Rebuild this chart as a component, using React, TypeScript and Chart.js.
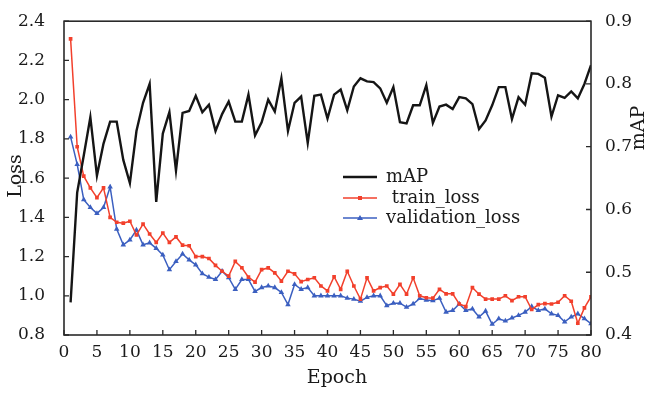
import React, { useEffect, useRef } from "react";
import { Chart, registerables } from "chart.js";
Chart.register(...registerables);

const epochs = [
  1, 2, 3, 4, 5, 6, 7, 8, 9, 10, 11, 12, 13, 14, 15, 16, 17, 18, 19, 20,
  21, 22, 23, 24, 25, 26, 27, 28, 29, 30, 31, 32, 33, 34, 35, 36, 37, 38, 39, 40,
  41, 42, 43, 44, 45, 46, 47, 48, 49, 50, 51, 52, 53, 54, 55, 56, 57, 58, 59, 60,
  61, 62, 63, 64, 65, 66, 67, 68, 69, 70, 71, 72, 73, 74, 75, 76, 77, 78, 79, 80,
];

const mAP = [
  0.452, 0.627, 0.686, 0.747, 0.654, 0.705, 0.74, 0.74, 0.679, 0.642,
  0.725, 0.77, 0.8, 0.612, 0.721, 0.755, 0.662, 0.754, 0.757, 0.781,
  0.755, 0.767, 0.725, 0.752, 0.772, 0.74, 0.74, 0.783, 0.718, 0.739,
  0.775, 0.756, 0.809, 0.725, 0.77, 0.78, 0.706, 0.781, 0.783, 0.745,
  0.783, 0.791, 0.758, 0.796, 0.809, 0.804, 0.803, 0.793, 0.77, 0.795,
  0.739, 0.737, 0.766, 0.766, 0.798, 0.738, 0.764, 0.767, 0.76, 0.779,
  0.777, 0.768, 0.728, 0.742, 0.766, 0.795, 0.795, 0.744, 0.779, 0.767,
  0.817, 0.816, 0.81, 0.748, 0.782, 0.778, 0.788, 0.777, 0.8, 0.83,
];

const trainLoss = [
  2.31, 1.76, 1.61, 1.55, 1.5, 1.55, 1.4, 1.375, 1.37, 1.38,
  1.31, 1.365, 1.315, 1.272, 1.32, 1.272, 1.3, 1.258, 1.255, 1.2,
  1.2, 1.19, 1.155, 1.125, 1.1, 1.175, 1.143, 1.095, 1.07, 1.133,
  1.142, 1.117, 1.075, 1.125, 1.112, 1.072, 1.083, 1.092, 1.05, 1.025,
  1.097, 1.033, 1.125, 1.05, 0.983, 1.092, 1.025, 1.042, 1.05, 1.008,
  1.058, 1.008, 1.092, 1.0, 0.99, 0.988, 1.033, 1.01, 1.01, 0.958,
  0.945, 1.042, 1.008, 0.983, 0.983, 0.983, 1.0, 0.975, 0.995, 0.995,
  0.93, 0.955, 0.96, 0.958, 0.967, 1.0, 0.972, 0.86, 0.938, 0.995,
];

const validationLoss = [
  1.81, 1.67, 1.49, 1.45, 1.42, 1.45, 1.555, 1.34, 1.26, 1.285,
  1.335, 1.26, 1.27, 1.242, 1.208, 1.133, 1.175, 1.213, 1.183, 1.158,
  1.113, 1.095, 1.083, 1.125, 1.092, 1.033, 1.083, 1.083, 1.022, 1.042,
  1.05, 1.042, 1.017, 0.955, 1.058, 1.033, 1.042, 1.0, 1.0, 1.0,
  1.0, 1.0, 0.988, 0.983, 0.972, 0.992, 1.0, 1.0, 0.95, 0.962,
  0.962, 0.942, 0.958, 0.986, 0.978, 0.975, 0.988, 0.917, 0.925, 0.958,
  0.925, 0.933, 0.892, 0.922, 0.855, 0.883, 0.872, 0.887, 0.9, 0.917,
  0.945, 0.925, 0.933, 0.908, 0.9, 0.867, 0.892, 0.908, 0.883, 0.858,
];

const seriesLabels = ["mAP", " train_loss", "validation_loss"];
const xTitle = "Epoch";
const leftTitle = "Loss";
const rightTitle = "mAP";

const FONT = "'DejaVu Serif', serif";
const BLACK = "#151515";
const RED = "#f2402c";
const BLUE = "#3b5fc0";

const decorPlugin = {
  id: "decor",
  afterDraw(chart: any) {
    const { ctx, chartArea: a, scales } = chart;
    ctx.save();
    // frame
    ctx.strokeStyle = "#2a2a2a";
    ctx.lineWidth = 1.6;
    ctx.strokeRect(a.left, a.top, a.right - a.left, a.bottom - a.top);
    // inner ticks
    ctx.lineWidth = 1.3;
    ctx.beginPath();
    scales.x.ticks.forEach((t: any) => {
      const px = scales.x.getPixelForValue(t.value);
      ctx.moveTo(px, a.bottom);
      ctx.lineTo(px, a.bottom - 5);
    });
    scales.y.ticks.forEach((t: any) => {
      const py = scales.y.getPixelForValue(t.value);
      ctx.moveTo(a.left, py);
      ctx.lineTo(a.left + 5, py);
    });
    scales.y1.ticks.forEach((t: any) => {
      const py = scales.y1.getPixelForValue(t.value);
      ctx.moveTo(a.right, py);
      ctx.lineTo(a.right - 5, py);
    });
    ctx.stroke();

    // axis titles
    ctx.fillStyle = "#1a1a1a";
    ctx.font = `19px ${FONT}`;
    ctx.textAlign = "center";
    ctx.textBaseline = "middle";
    ctx.fillText(xTitle, 337, 378);
    ctx.save();
    ctx.translate(16, 176);
    ctx.rotate(-Math.PI / 2);
    ctx.fillText(leftTitle, 0, 0);
    ctx.restore();
    ctx.save();
    ctx.translate(639, 128);
    ctx.rotate(-Math.PI / 2);
    ctx.fillText(rightTitle, 0, 0);
    ctx.restore();

    // legend
    const rows = [177, 198, 218];
    chart.data.datasets.forEach((ds: any, i: number) => {
      const y = rows[i];
      ctx.strokeStyle = ds.borderColor;
      ctx.lineWidth = ds.borderWidth;
      ctx.beginPath();
      ctx.moveTo(343, y);
      ctx.lineTo(377, y);
      ctx.stroke();
      if (ds.pointRadius > 0) {
        ctx.fillStyle = ds.pointBackgroundColor;
        ctx.beginPath();
        if (ds.pointStyle === "rect") {
          ctx.rect(360 - 2, y - 2, 4, 4);
        } else {
          ctx.moveTo(360, y - 3);
          ctx.lineTo(363, y + 2);
          ctx.lineTo(357, y + 2);
          ctx.closePath();
        }
        ctx.fill();
      }
      ctx.fillStyle = "#1a1a1a";
      ctx.font = `18px ${FONT}`;
      ctx.textAlign = "left";
      ctx.textBaseline = "middle";
      ctx.fillText(ds.label, 386, y);
    });
    ctx.restore();
  },
};

export default function App() {
  const ref = useRef<HTMLCanvasElement | null>(null);
  useEffect(() => {
    document.body.style.margin = "0";
    if (!ref.current) return;
    const toPts = (arr: number[]) => arr.map((v, i) => ({ x: epochs[i], y: v }));
    const chart = new Chart(ref.current, {
      type: "line",
      data: {
        datasets: [
          {
            label: seriesLabels[0],
            data: toPts(mAP),
            yAxisID: "y1",
            borderColor: BLACK,
            backgroundColor: BLACK,
            borderWidth: 2.4,
            pointRadius: 0,
            tension: 0,
          },
          {
            label: seriesLabels[1],
            data: toPts(trainLoss),
            yAxisID: "y",
            borderColor: RED,
            backgroundColor: RED,
            pointBackgroundColor: RED,
            pointBorderColor: RED,
            borderWidth: 1.5,
            pointStyle: "rect",
            pointRadius: 2.6,
            pointBorderWidth: 0,
            tension: 0,
          },
          {
            label: seriesLabels[2],
            data: toPts(validationLoss),
            yAxisID: "y",
            borderColor: BLUE,
            backgroundColor: BLUE,
            pointBackgroundColor: BLUE,
            pointBorderColor: BLUE,
            borderWidth: 1.5,
            pointStyle: "triangle",
            pointRadius: 3.2,
            pointBorderWidth: 0,
            tension: 0,
          },
        ],
      },
      options: {
        animation: false,
        responsive: false,
        maintainAspectRatio: false,
        layout: { padding: { top: 15, left: 0, right: 0, bottom: 0 } },
        plugins: { legend: { display: false }, tooltip: { enabled: false } },
        scales: {
          x: {
            type: "linear",
            min: 0,
            max: 80,
            grid: { display: false },
            border: { display: false },
            ticks: {
              stepSize: 5,
              autoSkip: false,
              maxRotation: 0,
              padding: -1,
              color: "#1a1a1a",
              font: { family: FONT, size: 17 },
            },
            afterFit: (s: any) => {
              s.height = 59;
            },
          },
          y: {
            position: "left",
            min: 0.8,
            max: 2.4,
            grid: { display: false },
            border: { display: false },
            ticks: {
              stepSize: 0.2,
              padding: 11,
              color: "#1a1a1a",
              font: { family: FONT, size: 17 },
              callback: (v: any) => Number(v).toFixed(1),
            },
            afterFit: (s: any) => {
              s.width = 64;
            },
          },
          y1: {
            position: "right",
            min: 0.4,
            max: 0.9,
            grid: { display: false },
            border: { display: false },
            ticks: {
              stepSize: 0.1,
              padding: 6,
              color: "#1a1a1a",
              font: { family: FONT, size: 17 },
              callback: (v: any) => Number(v).toFixed(1),
            },
            afterFit: (s: any) => {
              s.width = 56;
            },
          },
        },
      },
      plugins: [decorPlugin],
    });
    return () => chart.destroy();
  }, []);
  return (
    <div style={{ position: "fixed", left: 0, top: 0, width: 647, height: 394, background: "#fff" }}>
      <canvas ref={ref} width={647} height={394} />
    </div>
  );
}
